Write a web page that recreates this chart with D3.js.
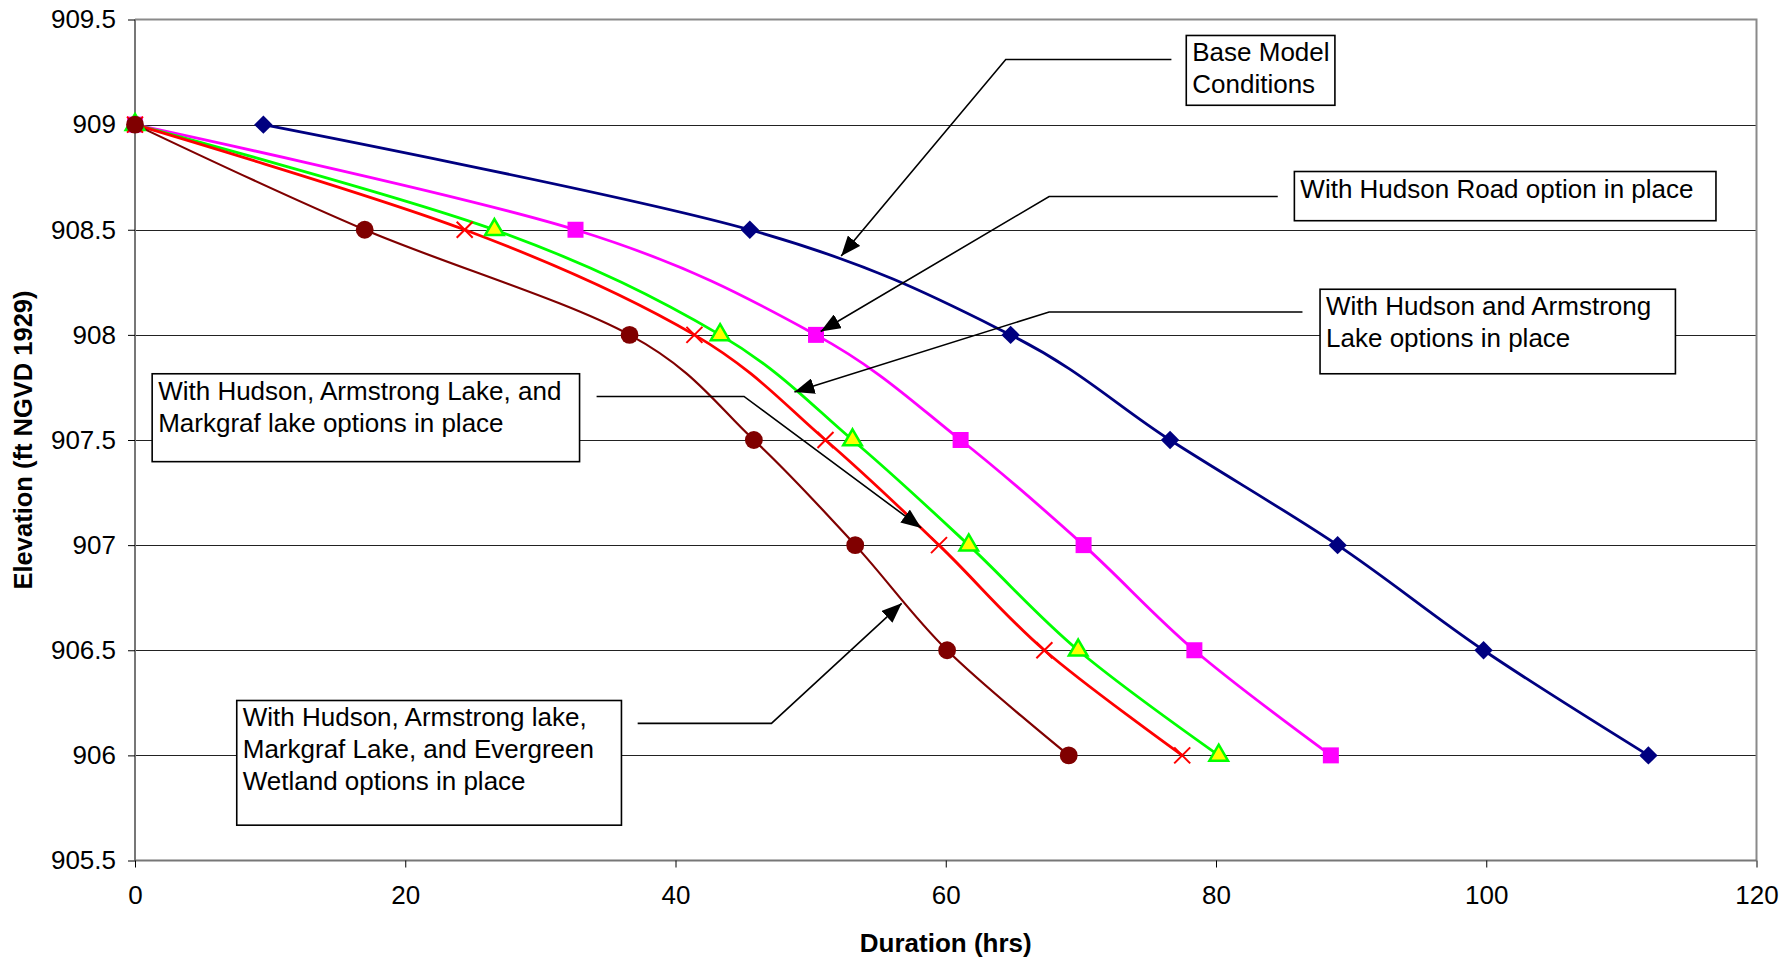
<!DOCTYPE html>
<html>
<head>
<meta charset="utf-8">
<script src="https://cdn.jsdelivr.net/npm/d3@7"></script>
<style>
body{margin:0;background:#fff;}
text{font-family:"Liberation Sans",Arial,sans-serif;fill:#000;}
</style>
</head>
<body>
<svg id="chart" width="1792" height="960"></svg>
<script>
// elevations shared by every series (ft NGVD 1929)
var elevations = [909, 908.5, 908, 907.5, 907, 906.5, 906];

// duration (hrs) to reach each elevation
var baseHours      = [9.5, 45.5, 64.8, 76.6, 89.0, 99.8, 112.0];
var hudsonHours    = [0, 32.6, 50.4, 61.1, 70.2, 78.4, 88.5];
var armstrongHours = [0, 26.6, 43.3, 53.1, 61.7, 69.8, 80.2];
var markgrafHours  = [0, 24.4, 41.4, 51.1, 59.5, 67.3, 77.5];
var evergreenHours = [0, 17.0, 36.6, 45.8, 53.3, 60.1, 69.1];

var xTicks = [0, 20, 40, 60, 80, 100, 120];
var yTicks = [905.5, 906, 906.5, 907, 907.5, 908, 908.5, 909, 909.5];
var gridLevels = [906, 906.5, 907, 907.5, 908, 908.5, 909];

// callout text, box corners and leader points, in data units
var calloutText = [
  ["Base Model", "Conditions"],
  ["With Hudson Road option in place"],
  ["With Hudson and Armstrong", "Lake options in place"],
  ["With Hudson, Armstrong Lake, and", "Markgraf lake options in place"],
  ["With Hudson, Armstrong lake,", "Markgraf Lake, and Evergreen", "Wetland options in place"]
];
var calloutBox = [
  [77.8, 88.8, 909.424, 909.092],
  [85.8, 117.0, 908.777, 908.543],
  [87.7, 114.0, 908.217, 907.815],
  [1.27, 32.9, 907.815, 907.397],
  [7.53, 36.0, 906.261, 905.668]
];
var calloutLeader = [
  [[76.7, 909.31], [64.44, 909.31], [52.26, 908.375]],
  [[84.57, 908.658], [67.65, 908.658], [50.74, 908.016]],
  [[86.4, 908.109], [67.65, 908.109], [48.8, 907.728]],
  [[34.16, 907.707], [45.07, 907.707], [58.18, 907.082]],
  [[37.2, 906.152], [47.1, 906.152], [56.74, 906.723]]
];

var svg = d3.select("#chart");
var x = d3.scaleLinear().domain([0, 120]).range([135, 1756.5]);
var y = d3.scaleLinear().domain([905.5, 909.5]).range([860.5, 19.5]);

var series = [
  {name: "base", hours: baseHours, color: "#000080", shape: "diamond"},
  {name: "hudson", hours: hudsonHours, color: "#ff00ff", shape: "square"},
  {name: "armstrong", hours: armstrongHours, color: "#00ff00", shape: "triangle"},
  {name: "markgraf", hours: markgrafHours, color: "#ff0000", shape: "x"},
  {name: "evergreen", hours: evergreenHours, color: "#800000", shape: "circle"}
];

// gridlines
svg.append("g").selectAll("line")
  .data(gridLevels)
  .enter().append("line")
  .attr("x1", x(0)).attr("x2", x(120))
  .attr("y1", function(d){return Math.round(y(d)) + 0.5;})
  .attr("y2", function(d){return Math.round(y(d)) + 0.5;})
  .attr("stroke", "#222").attr("stroke-width", 1);

// frame top + right
svg.append("path")
  .attr("d", "M" + x(0) + "," + y(909.5) + "H" + x(120) + "V" + y(905.5))
  .attr("fill", "none").attr("stroke", "#8a8a8a").attr("stroke-width", 2);

var yAxis = d3.axisLeft(y).tickValues(yTicks).tickSize(7).tickPadding(12)
  .tickFormat(function(d){return String(d);});
var xAxis = d3.axisBottom(x).tickValues(xTicks).tickSize(7).tickPadding(18)
  .tickFormat(function(d){return String(d);});

var gy = svg.append("g").attr("transform", "translate(" + x(0) + ",0)").call(yAxis);
var gx = svg.append("g").attr("transform", "translate(0," + y(905.5) + ")").call(xAxis);
[gx, gy].forEach(function(g){
  g.select(".domain").attr("stroke", "#777").attr("stroke-width", 2);
  g.selectAll(".tick line").attr("stroke", "#000");
  g.selectAll(".tick text").attr("font-size", 26)
    .attr("font-family", "'Liberation Sans',Arial,sans-serif").attr("fill", "#000");
});
gx.select(".domain").attr("d", "M" + x(0) + ",0H" + x(120));
gy.select(".domain").attr("d", "M0," + y(909.5) + "V" + y(905.5));

// axis titles
svg.append("text")
  .attr("x", (x(0) + x(120)) / 2).attr("y", 952)
  .attr("text-anchor", "middle").attr("font-size", 26).attr("font-weight", "bold")
  .text("Duration (hrs)");
svg.append("text")
  .attr("transform", "translate(32," + (y(905.5) + y(909.5)) / 2 + ") rotate(-90)")
  .attr("text-anchor", "middle").attr("font-size", 25.5).attr("font-weight", "bold")
  .text("Elevation (ft NGVD 1929)");

// lines
var line = d3.line()
  .x(function(d){return x(d[0]);})
  .y(function(d){return y(d[1]);})
  .curve(d3.curveCatmullRom.alpha(0));

series.forEach(function(s){
  s.points = s.hours.map(function(h, i){return [h, elevations[i]];});
});

svg.append("g").selectAll("path")
  .data(series)
  .enter().append("path")
  .attr("d", function(s){return line(s.points);})
  .attr("fill", "none")
  .attr("stroke", function(s){return s.color;})
  .attr("stroke-width", function(s){return s.name == "evergreen" ? 2.2 : 2.8;});

// markers
series.forEach(function(s){
  var g = svg.append("g");
  var m = g.selectAll("path").data(s.points).enter().append("path")
    .attr("transform", function(d){return "translate(" + x(d[0]) + "," + y(d[1]) + ")";});
  if (s.shape == "diamond") {
    m.attr("d", d3.symbol(d3.symbolSquare, 170)()).attr("fill", s.color)
      .attr("transform", function(d){return "translate(" + x(d[0]) + "," + y(d[1]) + ") rotate(45)";});
  } else if (s.shape == "square") {
    m.attr("d", d3.symbol(d3.symbolSquare, 256)()).attr("fill", s.color);
  } else if (s.shape == "triangle") {
    m.attr("d", d3.symbol(d3.symbolTriangle, 150)()).attr("fill", "#ffff00")
      .attr("stroke", s.color).attr("stroke-width", 2.5);
  } else if (s.shape == "x") {
    m.attr("d", "M-8,-8L8,8M-8,8L8,-8").attr("fill", "none")
      .attr("stroke", s.color).attr("stroke-width", 2);
  } else {
    m.attr("d", d3.symbol(d3.symbolCircle, 250)()).attr("fill", s.color);
  }
});

// callouts
svg.append("defs").append("marker")
  .attr("id", "arrow").attr("markerUnits", "userSpaceOnUse")
  .attr("viewBox", "0 0 20 16").attr("refX", 20).attr("refY", 8)
  .attr("markerWidth", 20).attr("markerHeight", 16).attr("orient", "auto")
  .append("path").attr("d", "M0,0L20,8L0,16Z").attr("fill", "#000");

var leader = d3.line()
  .x(function(d){return x(d[0]);})
  .y(function(d){return y(d[1]);});

var callouts = svg.append("g");
calloutText.forEach(function(lines, i){
  var b = calloutBox[i];
  callouts.append("path")
    .attr("d", leader(calloutLeader[i]))
    .attr("fill", "none").attr("stroke", "#000").attr("stroke-width", 1.6)
    .attr("marker-end", "url(#arrow)");
  callouts.append("rect")
    .attr("x", x(b[0])).attr("y", y(b[2]))
    .attr("width", x(b[1]) - x(b[0])).attr("height", y(b[3]) - y(b[2]))
    .attr("fill", "#fff").attr("stroke", "#000").attr("stroke-width", 1.6);
  callouts.append("g").selectAll("text")
    .data(lines)
    .enter().append("text")
    .attr("x", x(b[0]) + 6)
    .attr("y", function(d, j){return y(b[2]) + 26 + j * 32;})
    .attr("font-size", 26)
    .text(function(d){return d;});
});
</script>
</body>
</html>
